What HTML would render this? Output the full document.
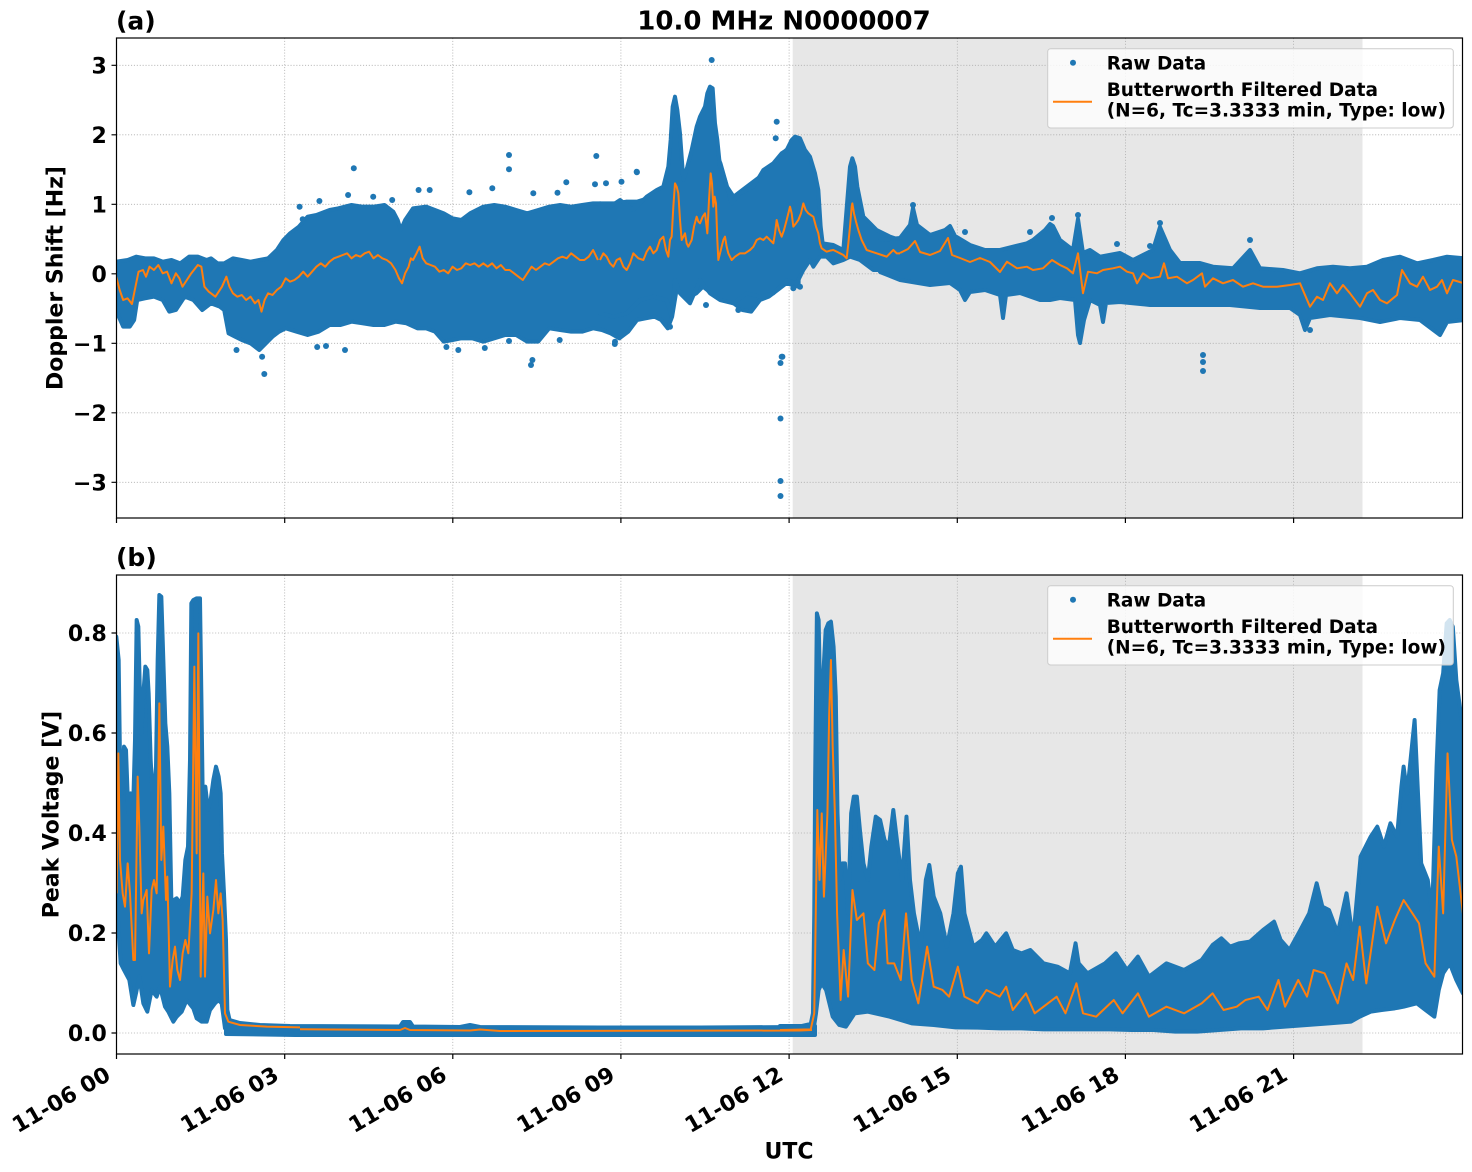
<!DOCTYPE html>
<html><head><meta charset="utf-8"><style>
html,body{margin:0;padding:0;background:#fff}
svg{display:block}
text{font-family:"DejaVu Sans","Liberation Sans",sans-serif;font-weight:bold;fill:#000}
</style></head><body>
<svg width="1472" height="1172" viewBox="0 0 1472 1172" xmlns="http://www.w3.org/2000/svg">
<defs>
<clipPath id="ca"><rect x="116.5" y="38" width="1346" height="480"/></clipPath>
<clipPath id="cb"><rect x="116.5" y="575" width="1346" height="479"/></clipPath>
</defs>
<rect width="1472" height="1172" fill="#fff"/>

<!-- shading -->
<rect x="792.7" y="38" width="569.8" height="480" fill="#e7e7e7"/>
<rect x="792.7" y="575" width="569.8" height="479" fill="#e7e7e7"/>

<!-- grids -->
<g stroke="#b0b0b0" stroke-width="0.8" stroke-dasharray="1.1 1.8" fill="none">
<path d="M284.7 38V518M452.8 38V518M620.9 38V518M789.1 38V518M957.3 38V518M1125.4 38V518M1293.6 38V518"/>
<path d="M116.5 65.3H1462.5M116.5 134.8H1462.5M116.5 204.3H1462.5M116.5 273.8H1462.5M116.5 343.3H1462.5M116.5 412.8H1462.5M116.5 482.3H1462.5"/>
<path d="M284.7 575V1054M452.8 575V1054M620.9 575V1054M789.1 575V1054M957.3 575V1054M1125.4 575V1054M1293.6 575V1054"/>
<path d="M116.5 633H1462.5M116.5 733H1462.5M116.5 833H1462.5M116.5 933H1462.5M116.5 1033H1462.5"/>
</g>

<!-- TOP PANEL DATA -->
<g clip-path="url(#ca)">
<g fill="#1f77b4" stroke="#1f77b4" stroke-width="4" stroke-linejoin="round">
<g transform="translate(110,130) scale(0.43917,0.33333)">
<polygon vector-effect="non-scaling-stroke" points="14,395 40,390 60,380 80,385 100,385 120,395 140,390 160,400 180,380 200,380 220,390 230,385 245,400 260,400 280,385 300,390 320,395 340,390 360,385 380,360 395,330 410,310 430,290 450,260 470,255 500,240 520,235 550,225 575,230 600,230 625,225 645,245 655,270 662,300 672,270 690,235 720,230 740,240 760,250 780,265 800,270 820,250 850,230 875,225 900,230 925,240 950,250 975,240 1000,230 1025,225 1050,230 1075,225 1100,220 1125,220 1150,220 1175,215 1200,215 1225,205 1250,195 1265,180 1275,80 1282,0 1292,60 1300,150 1310,140 1320,100 1330,40 1340,10 1352,0 1365,0 1378,60 1390,100 1405,170 1420,200 1440,180 1460,160 1480,140 1500,120 1520,90 1540,60 1568,50 1568,470 1540,460 1520,480 1500,500 1480,510 1460,545 1440,540 1420,520 1400,510 1380,500 1360,480 1350,470 1335,490 1320,500 1305,490 1290,480 1280,560 1270,595 1255,570 1240,560 1220,565 1200,570 1180,605 1160,625 1140,610 1120,600 1100,595 1075,605 1050,605 1025,600 1000,595 975,635 950,635 925,615 900,615 875,625 850,635 825,625 800,625 780,630 760,635 740,605 720,595 700,595 675,580 650,575 625,585 600,585 575,580 550,575 525,585 500,585 475,605 450,615 425,605 400,595 385,605 370,620 355,640 340,660 320,640 300,630 285,620 270,610 260,540 250,530 230,520 210,540 190,510 170,500 150,540 135,545 120,510 100,500 80,505 62,510 55,570 45,590 30,590 20,560 14,520"/>
</g>
<g transform="translate(600,40) scale(0.33333)">
<polygon vector-effect="non-scaling-stroke" points="0,490 30,500 60,480 100,510 140,470 170,450 190,440 205,380 212,300 218,200 225,170 232,210 240,280 250,420 262,380 275,330 290,260 300,230 315,200 322,160 330,140 338,145 345,250 352,300 360,380 375,420 395,490 420,460 460,440 490,390 520,370 545,340 560,330 575,300 585,290 600,295 615,330 630,350 645,400 655,450 662,560 668,610 700,615 730,630 742,480 750,380 757,355 765,380 772,440 790,530 810,550 830,570 870,590 900,600 900,700 860,690 820,690 780,660 750,650 730,660 700,670 680,650 660,650 640,680 630,660 610,690 590,730 560,720 520,760 480,770 440,760 400,790 360,780 330,760 300,720 270,790 240,760 225,720 215,830 200,780 160,770 120,780 80,820 40,830 0,820"/>
</g>
<polygon points="880,240 900,238 910,225 913,208 917,225 930,235 945,230 950,226 955,236 970,245 985,250 1000,250 1013,246.7 1027,243.3 1033,240 1045,230 1050,224 1053,226 1060,240 1073,250 1078,219 1083,253 1090,250 1100,256.7 1120,253 1133,260 1153,250 1160,227 1170,250 1180,263 1200,263 1213,266.7 1233,268.3 1250,250 1260,268.3 1283,270 1300,273.3 1317,268.3 1333,266.7 1350,268.3 1367,266.7 1383,260 1400,256.7 1417,263.3 1433,260 1447,256.7 1464,258.3 1464,320 1447,322 1440,335 1420,320 1400,318 1380,322 1360,318 1330,315 1310,318 1305,330 1300,315 1290,308 1260,308 1230,305 1200,305 1180,305 1150,305 1120,302 1106,303 1103,322 1100,305 1090,300 1084,320 1080,343 1078,335 1075,300 1060,298 1050,300 1040,300 1020,293 1006,295 1003,318 1000,295 985,290 970,292 965,300 960,290 950,283 930,285 900,280 880,272"/>
</g>
<g fill="#1f77b4">
<circle cx="353.8" cy="168.3" r="3"/><circle cx="509" cy="155" r="3"/><circle cx="509" cy="169.3" r="3"/><circle cx="596.3" cy="156" r="3"/><circle cx="636.9" cy="172.3" r="3"/><circle cx="566.3" cy="182.3" r="3"/><circle cx="264.3" cy="374" r="3"/><circle cx="262.1" cy="356.7" r="3"/><circle cx="531" cy="365" r="3"/><circle cx="532.4" cy="360" r="3"/><circle cx="782.4" cy="356.7" r="3"/><circle cx="458.3" cy="350" r="3"/><circle cx="345" cy="350" r="3"/><circle cx="236.5" cy="350" r="3"/><circle cx="418.6" cy="190" r="3"/><circle cx="429.7" cy="190" r="3"/><circle cx="299.6" cy="206.7" r="3"/><circle cx="302.7" cy="219.3" r="3"/><circle cx="319.4" cy="201" r="3"/><circle cx="348.1" cy="195" r="3"/><circle cx="373.2" cy="196.7" r="3"/><circle cx="392.2" cy="200" r="3"/><circle cx="469.4" cy="192.3" r="3"/><circle cx="492.3" cy="188.3" r="3"/><circle cx="533.3" cy="193.3" r="3"/><circle cx="557.5" cy="192.7" r="3"/><circle cx="595" cy="184.3" r="3"/><circle cx="621.5" cy="181.7" r="3"/><circle cx="606" cy="183.3" r="3"/><circle cx="559.7" cy="340" r="3"/><circle cx="614.8" cy="344" r="3"/><circle cx="317.2" cy="347" r="3"/><circle cx="326" cy="346" r="3"/><circle cx="446.4" cy="347" r="3"/><circle cx="484.8" cy="348" r="3"/><circle cx="509" cy="341" r="3"/><circle cx="670" cy="326.7" r="3"/><circle cx="711.7" cy="60" r="3"/><circle cx="781.7" cy="356.7" r="3"/><circle cx="636.7" cy="171.7" r="3"/><circle cx="776.7" cy="121.7" r="3"/><circle cx="775.7" cy="138.3" r="3"/><circle cx="615" cy="341.7" r="3"/><circle cx="738.3" cy="310" r="3"/><circle cx="706" cy="305" r="3"/><circle cx="793.3" cy="288.3" r="3"/><circle cx="800" cy="286.7" r="3"/><circle cx="780.5" cy="418.5" r="3"/><circle cx="780.5" cy="481" r="3"/><circle cx="780.5" cy="496" r="3"/><circle cx="780.5" cy="363" r="3"/><circle cx="1203" cy="355" r="3"/><circle cx="1203" cy="362" r="3"/><circle cx="1203" cy="371" r="3"/><circle cx="1310" cy="330" r="3"/><circle cx="1078" cy="215" r="3"/><circle cx="1160" cy="223" r="3"/><circle cx="913" cy="205" r="3"/>
<circle cx="1030" cy="232" r="3"/><circle cx="1052" cy="218" r="3"/><circle cx="1117" cy="244" r="3"/><circle cx="1250" cy="240" r="3"/><circle cx="1150" cy="246" r="3"/><circle cx="965" cy="232" r="3"/>
</g>
<g fill="none" stroke="#ff7f0e" stroke-width="2" stroke-linejoin="round">
<g transform="translate(110,130) scale(0.43917,0.33333)">
<polyline vector-effect="non-scaling-stroke" points="14,440 22,480 30,510 40,505 50,522 58,470 65,425 75,420 82,440 90,410 100,420 110,405 120,430 130,425 140,460 150,430 158,445 165,470 175,450 185,430 200,405 208,410 215,470 225,485 240,500 255,470 265,440 272,470 280,490 290,500 300,495 310,510 320,500 330,520 338,510 345,545 352,510 360,490 370,495 380,480 390,470 400,445 410,455 420,450 430,440 440,425 450,440 460,425 470,410 480,400 490,410 500,395 510,385 520,380 530,375 540,370 550,385 560,375 570,380 580,370 590,365 600,385 610,375 620,385 630,390 640,400 650,420 658,445 665,460 672,430 680,410 685,385 690,390 698,370 705,350 712,385 720,400 730,405 740,410 750,425 760,420 770,430 780,410 790,420 800,415 810,400 820,405 830,400 840,410 850,400 860,410 870,400 880,415 890,405 900,420 910,420 920,430 930,440 940,450 950,430 960,410 970,420 980,410 990,400 1000,405 1010,395 1020,385 1030,380 1040,385 1050,370 1060,380 1070,390 1080,390 1090,380 1100,360 1111,390"/>
</g>
<g transform="translate(600,40) scale(0.33333)">
<polyline vector-effect="non-scaling-stroke" points="0,660 10,640 20,650 30,670 40,680 50,660 60,655 70,680 80,690 90,670 100,640 115,655 130,660 140,635 150,620 160,640 170,630 180,600 190,590 198,630 205,650 210,600 215,590 220,500 225,430 230,440 235,460 240,540 245,600 250,590 255,580 260,610 265,620 270,610 275,600 282,560 290,530 295,545 300,550 308,530 315,520 322,580 327,480 332,400 336,430 340,500 344,470 348,490 352,600 355,660 360,640 365,620 370,600 375,590 380,620 385,640 395,660 405,650 420,640 435,640 450,630 460,620 470,600 480,595 490,600 500,590 510,600 520,610 525,580 530,540 537,570 545,590 552,570 560,540 565,520 570,500 575,520 580,560 588,550 595,540 603,520 610,490 617,510 625,520 632,525 640,530 648,560 655,580 660,610 665,625 672,630 680,635 690,632 700,630 710,635 720,640 730,645 740,655 745,610 750,560 755,500 757,490 762,520 768,545 775,570 785,600 800,630 815,635 830,640 845,645 860,650 870,640 880,630 890,640 900,640"/>
</g>
<polyline points="900,253 908,249 915,241 920,252 930,255 940,251 948,238 952,255 960,258 970,262 980,258 990,262 1000,272 1007,261.7 1017,268.3 1027,266.7 1033,270 1043,268.3 1052,260 1060,265 1067,268.3 1073,273.3 1078,253.3 1083,293.3 1088,271.7 1097,273.3 1103,270 1113,268.3 1120,266.7 1127,271.7 1133,273.3 1137,283.3 1143,273.3 1150,278.3 1160,276.7 1164,263.3 1168,278.3 1177,276.7 1187,283.3 1193,280 1202,273.3 1205,286.7 1213,278.3 1223,283.3 1233,280 1243,286.7 1253,283.3 1263,286.7 1277,286.7 1290,285 1300,283.3 1310,306.7 1317,296.7 1323,300 1330,283.3 1337,293.3 1343,285 1350,293.3 1360,306.7 1367,293.3 1373,290 1380,300 1387,303.3 1397,295 1402,270 1410,283.3 1417,286.7 1423,276.7 1430,290 1437,286.7 1442,280 1447,293.3 1453,280 1464,283.3"/>
</g>
</g>

<!-- BOTTOM PANEL DATA -->
<g clip-path="url(#cb)">
<g fill="#1f77b4" stroke="#1f77b4" stroke-width="4" stroke-linejoin="round">
<g transform="translate(0,560) scale(0.33333)">
<polygon vector-effect="non-scaling-stroke" points="349,230 352,260 356,300 360,600 366,700 372,560 378,570 385,760 392,700 400,720 405,540 410,180 415,200 419,370 424,520 428,430 436,320 442,330 446,400 452,600 460,740 468,620 473,300 478,105 484,110 490,300 496,490 502,560 508,700 514,1020 522,1020 530,1015 540,1030 548,1010 556,900 564,860 570,600 574,130 580,120 590,115 600,115 604,400 608,700 616,680 624,750 632,720 640,660 648,620 656,650 662,700 666,880 672,1000 678,1140 682,1350 690,1385 720,1395 780,1400 900,1405 900,1420 780,1420 720,1418 690,1415 675,1405 665,1330 655,1320 645,1330 630,1350 620,1385 605,1385 590,1375 580,1345 560,1320 545,1355 530,1370 520,1385 505,1355 495,1340 480,1280 470,1310 455,1290 442,1355 430,1330 418,1250 408,1300 400,1335 388,1260 372,1230 362,1210 355,1100 349,1000"/>
</g>
<polygon points="226,1019 240,1023 260,1025 290,1026 400,1026.5 403,1022 410,1022 413,1026.5 460,1027 470,1025 480,1027 600,1027.5 700,1027.5 800,1027 815,1026 815,1035 295,1035 226,1034"/>
<g transform="translate(780,580) scale(0.43917,0.33333)">
<polygon vector-effect="non-scaling-stroke" points="0,1338 50,1338 70,1332 75,1300 78,1000 80,600 84,100 88,120 92,400 98,300 104,150 110,130 116,125 122,200 127,350 131,700 136,900 142,850 148,850 155,1000 162,700 168,650 175,650 182,750 190,850 200,900 208,800 218,710 228,720 238,780 248,800 258,690 268,800 278,900 288,710 296,900 305,1000 320,1100 332,900 340,855 350,950 365,1000 380,1100 395,1000 405,880 412,860 420,1000 440,1100 460,1080 470,1060 490,1100 515,1060 530,1110 550,1120 570,1110 600,1150 632,1160 660,1180 673,1090 680,1150 700,1180 740,1150 765,1120 790,1170 815,1130 840,1190 880,1150 920,1170 960,1140 985,1095 1005,1075 1025,1100 1045,1090 1070,1085 1100,1050 1125,1025 1140,1080 1160,1110 1185,1050 1205,1000 1222,910 1235,980 1250,990 1270,1060 1290,940 1305,1080 1322,830 1345,770 1360,740 1375,800 1390,730 1405,770 1415,620 1420,560 1428,640 1445,420 1452,620 1460,850 1475,900 1485,1000 1495,560 1502,330 1510,280 1518,130 1525,120 1532,140 1540,300 1548,380 1555,450 1555,1240 1540,1200 1525,1150 1510,1180 1500,1230 1490,1310 1470,1290 1450,1270 1420,1280 1400,1285 1370,1290 1345,1295 1320,1310 1300,1325 1250,1330 1200,1335 1150,1340 1100,1345 1050,1345 1000,1350 950,1355 900,1355 850,1350 800,1350 750,1348 700,1348 650,1348 600,1348 550,1345 500,1345 450,1343 400,1342 350,1335 300,1330 250,1310 200,1295 170,1300 150,1340 135,1335 120,1310 105,1230 95,1210 88,1230 82,1300 76,1352 50,1358 0,1358"/>
</g>
</g>
<g fill="none" stroke="#ff7f0e" stroke-width="2" stroke-linejoin="round">
<g transform="translate(0,560) scale(0.33333)">
<polyline vector-effect="non-scaling-stroke" points="350,1000 355,580 360,900 368,1000 375,1040 383,910 390,1000 400,1200 405,1200 413,650 418,800 425,1060 430,1020 440,990 447,1180 455,990 462,960 470,1000 478,430 484,900 490,800 498,1020 502,950 510,1280 518,1200 525,1160 532,1230 540,1260 548,1180 556,1140 565,1180 575,1000 583,320 590,880 595,220 602,1250 610,940 615,1250 622,1010 630,1120 640,1050 648,960 655,1060 662,1000 668,1080 675,1360 685,1385 720,1395 800,1400 900,1402"/>
</g>
<polyline points="300,1029.3 400,1030 405,1028 410,1030 470,1030.5 480,1029.5 500,1031 800,1030.5 812,1030"/>
<g transform="translate(780,580) scale(0.43917,0.33333)">
<polyline vector-effect="non-scaling-stroke" points="0,1350 70,1348 78,1300 85,690 90,900 95,700 100,950 108,700 112,400 116,240 120,500 125,700 130,1000 138,1260 145,1110 155,1250 165,930 175,1020 190,1000 200,1150 215,1170 225,1030 238,990 245,1150 260,1150 275,1200 287,1000 300,1200 315,1270 335,1100 350,1220 370,1230 385,1250 405,1160 420,1250 450,1270 470,1230 500,1250 515,1220 530,1290 560,1240 580,1300 600,1280 630,1250 650,1300 675,1210 690,1300 720,1310 760,1260 780,1300 815,1240 840,1310 880,1280 920,1300 960,1270 985,1240 1010,1290 1040,1280 1060,1260 1090,1250 1110,1290 1135,1200 1150,1280 1180,1200 1200,1250 1215,1170 1240,1180 1270,1270 1290,1150 1305,1200 1320,1040 1335,1210 1360,980 1380,1090 1400,1020 1420,960 1440,1000 1455,1030 1470,1150 1490,1190 1500,800 1510,1000 1520,520 1530,780 1540,830 1555,1000"/>
</g>
</g>
</g>

<!-- spines -->
<rect x="116.5" y="38" width="1346" height="480" fill="none" stroke="#000" stroke-width="1.2"/>
<rect x="116.5" y="575" width="1346" height="479" fill="none" stroke="#000" stroke-width="1.2"/>

<!-- ticks -->
<g stroke="#000" stroke-width="1.2">
<path d="M116.5 518v5M284.7 518v5M452.8 518v5M620.9 518v5M789.1 518v5M957.3 518v5M1125.4 518v5M1293.6 518v5"/>
<path d="M116.5 1054v5M284.7 1054v5M452.8 1054v5M620.9 1054v5M789.1 1054v5M957.3 1054v5M1125.4 1054v5M1293.6 1054v5"/>
<path d="M116.5 65.3h-5M116.5 134.8h-5M116.5 204.3h-5M116.5 273.8h-5M116.5 343.3h-5M116.5 412.8h-5M116.5 482.3h-5"/>
<path d="M116.5 633h-5M116.5 733h-5M116.5 833h-5M116.5 933h-5M116.5 1033h-5"/>
</g>

<!-- y tick labels -->
<g font-size="22" text-anchor="end">
<text x="106.8" y="73.3">3</text>
<text x="106.8" y="142.8">2</text>
<text x="106.8" y="212.3">1</text>
<text x="106.8" y="281.8">0</text>
<text x="106.8" y="351.3">−1</text>
<text x="106.8" y="420.8">−2</text>
<text x="106.8" y="490.3">−3</text>
<text x="106.8" y="641">0.8</text>
<text x="106.8" y="741">0.6</text>
<text x="106.8" y="841">0.4</text>
<text x="106.8" y="941">0.2</text>
<text x="106.8" y="1041">0.0</text>
</g>

<!-- x tick labels -->
<g font-size="22" text-anchor="end">
<text transform="translate(112,1079) rotate(-30)">11-06 00</text>
<text transform="translate(280.2,1079) rotate(-30)">11-06 03</text>
<text transform="translate(448.3,1079) rotate(-30)">11-06 06</text>
<text transform="translate(616.4,1079) rotate(-30)">11-06 09</text>
<text transform="translate(784.6,1079) rotate(-30)">11-06 12</text>
<text transform="translate(952.8,1079) rotate(-30)">11-06 15</text>
<text transform="translate(1120.9,1079) rotate(-30)">11-06 18</text>
<text transform="translate(1289.1,1079) rotate(-30)">11-06 21</text>
</g>

<!-- labels & titles -->
<text x="784" y="29.3" font-size="26" text-anchor="middle">10.0 MHz N0000007</text>
<text x="116" y="29.6" font-size="25">(a)</text>
<text x="116" y="566" font-size="25">(b)</text>
<text transform="translate(62.7,278) rotate(-90)" font-size="22" text-anchor="middle">Doppler Shift [Hz]</text>
<text transform="translate(58.3,814.5) rotate(-90)" font-size="22" text-anchor="middle">Peak Voltage [V]</text>
<text x="789" y="1158.5" font-size="22" text-anchor="middle">UTC</text>

<!-- legends -->
<g>
<rect x="1047.7" y="48.7" width="405.6" height="79.3" rx="3" fill="#fff" fill-opacity="0.8" stroke="#cccccc" stroke-width="1"/>
<circle cx="1073" cy="62.7" r="3" fill="#1f77b4"/>
<line x1="1053" y1="101.7" x2="1092" y2="101.7" stroke="#ff7f0e" stroke-width="2"/>
<text x="1106.7" y="69.3" font-size="18.5">Raw Data</text>
<text x="1106.7" y="96" font-size="18.5">Butterworth Filtered Data</text>
<text x="1106.7" y="116.7" font-size="18.5">(N=6, Tc=3.3333 min, Type: low)</text>
</g>
<g transform="translate(0,537)">
<rect x="1047.7" y="48.7" width="405.6" height="79.3" rx="3" fill="#fff" fill-opacity="0.8" stroke="#cccccc" stroke-width="1"/>
<circle cx="1073" cy="62.7" r="3" fill="#1f77b4"/>
<line x1="1053" y1="101.7" x2="1092" y2="101.7" stroke="#ff7f0e" stroke-width="2"/>
<text x="1106.7" y="69.3" font-size="18.5">Raw Data</text>
<text x="1106.7" y="96" font-size="18.5">Butterworth Filtered Data</text>
<text x="1106.7" y="116.7" font-size="18.5">(N=6, Tc=3.3333 min, Type: low)</text>
</g>
</svg>
</body></html>
